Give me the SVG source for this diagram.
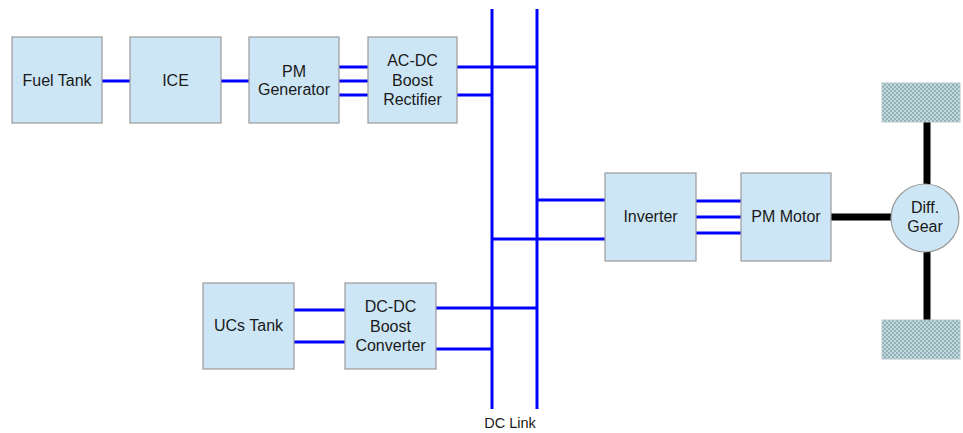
<svg xmlns="http://www.w3.org/2000/svg" width="963" height="433" viewBox="0 0 963 433">
<style>
.box{fill:#cde6f6;stroke:#9a9a9a;stroke-width:1.2}
.t{font-family:"Liberation Sans",Arial,sans-serif;font-size:16px;fill:#1a1a1a;text-anchor:middle}
.w{stroke:#0000ff;stroke-width:3;fill:none}
.s{stroke:#000;stroke-width:7;fill:none}
.wheel{fill:url(#chk);stroke:#b8c8cc;stroke-width:1}
</style>
<defs>
<pattern id="chk" width="4" height="4" patternUnits="userSpaceOnUse">
<rect width="4" height="4" fill="#c4d9dc"/>
<rect width="2" height="2" fill="#8fb0b6"/>
<rect x="2" y="2" width="2" height="2" fill="#8fb0b6"/>
</pattern>
</defs>
<rect width="963" height="433" fill="#fff"/>
<g id="connectors">
<line class="w" x1="102" y1="81" x2="130" y2="81"/>
<line class="w" x1="221" y1="81" x2="249" y2="81"/>
<line class="w" x1="339" y1="67" x2="368" y2="67"/>
<line class="w" x1="339" y1="81" x2="368" y2="81"/>
<line class="w" x1="339" y1="95" x2="368" y2="95"/>
<line class="w" x1="457" y1="67" x2="537" y2="67"/>
<line class="w" x1="457" y1="95" x2="492" y2="95"/>
<line class="w" x1="492" y1="9" x2="492" y2="409"/>
<line class="w" x1="537" y1="9" x2="537" y2="409"/>
<line class="w" x1="537" y1="200" x2="605" y2="200"/>
<line class="w" x1="492" y1="239" x2="605" y2="239"/>
<line class="w" x1="294" y1="310" x2="345" y2="310"/>
<line class="w" x1="294" y1="342" x2="345" y2="342"/>
<line class="w" x1="436" y1="308" x2="537" y2="308"/>
<line class="w" x1="436" y1="349" x2="492" y2="349"/>
<line class="w" x1="696" y1="201" x2="741" y2="201"/>
<line class="w" x1="696" y1="217" x2="741" y2="217"/>
<line class="w" x1="696" y1="233" x2="741" y2="233"/>
<line class="s" x1="831" y1="217" x2="892" y2="217"/>
<line class="s" x1="927" y1="122" x2="927" y2="184"/>
<line class="s" x1="927" y1="252" x2="927" y2="320"/>
</g>
<g id="fuel-tank"><rect class="box" x="12" y="37" width="90" height="86"/><text class="t" x="57" y="86">Fuel Tank</text></g>
<g id="ice"><rect class="box" x="130" y="37" width="91" height="86"/><text class="t" x="175.5" y="86">ICE</text></g>
<g id="pm-generator"><rect class="box" x="249" y="37" width="90" height="86"/><text class="t" x="294" y="77">PM</text><text class="t" x="294" y="95">Generator</text></g>
<g id="acdc"><rect class="box" x="368" y="37" width="89" height="86"/><text class="t" x="412.5" y="66">AC-DC</text><text class="t" x="412.5" y="86">Boost</text><text class="t" x="412.5" y="105">Rectifier</text></g>
<g id="inverter"><rect class="box" x="605" y="173" width="91" height="88"/><text class="t" x="650.5" y="222">Inverter</text></g>
<g id="pm-motor"><rect class="box" x="741" y="173" width="90" height="88"/><text class="t" x="786" y="222">PM Motor</text></g>
<g id="diff-gear"><circle cx="925" cy="218" r="34" fill="#cde6f6" stroke="#9a9a9a" stroke-width="1.2"/><text class="t" x="925" y="213">Diff.</text><text class="t" x="925" y="232">Gear</text></g>
<g id="wheel-top"><rect class="wheel" x="882" y="83" width="78" height="39"/></g>
<g id="wheel-bottom"><rect class="wheel" x="882" y="320" width="78" height="39"/></g>
<g id="ucs-tank"><rect class="box" x="203" y="283" width="91" height="86"/><text class="t" x="248.5" y="331">UCs Tank</text></g>
<g id="dcdc"><rect class="box" x="345" y="283" width="91" height="86"/><text class="t" x="390.5" y="312">DC-DC</text><text class="t" x="390.5" y="332">Boost</text><text class="t" x="390.5" y="351">Converter</text></g>
<g id="dc-link"><text class="t" x="510" y="428" style="font-size:14.5px">DC Link</text></g>
</svg>
